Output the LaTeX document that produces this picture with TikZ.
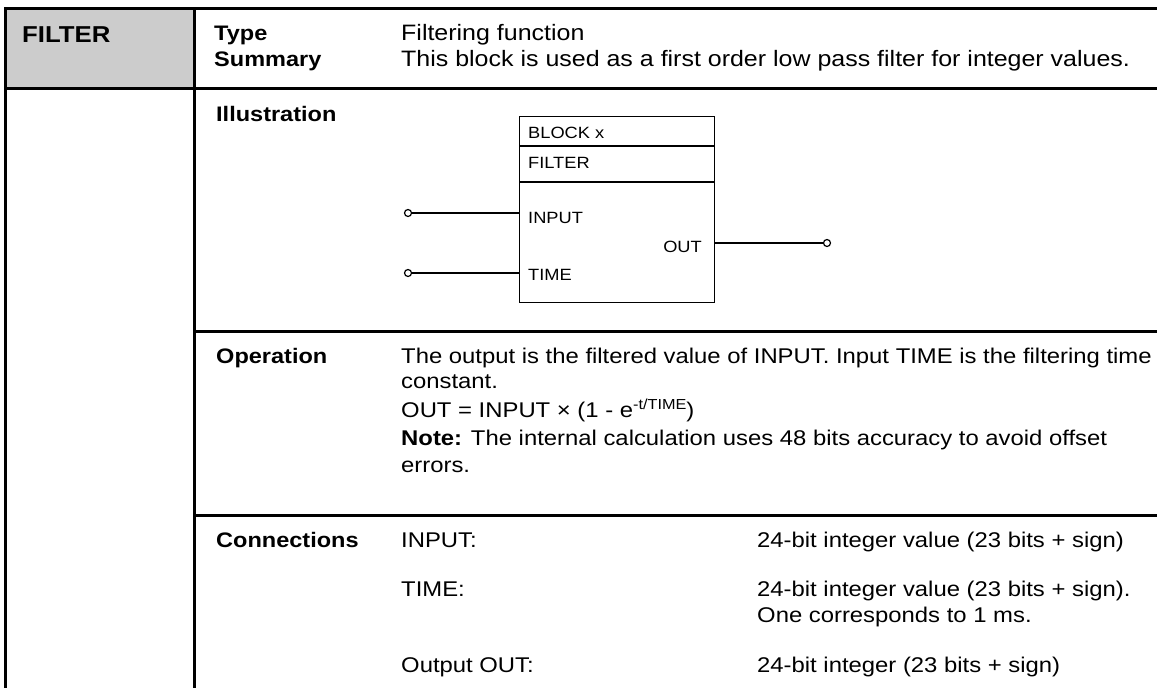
\documentclass[tikz,border=0pt]{standalone}
\usepackage{fontspec}
\setmainfont{Liberation Sans}[FakeStretch=1.12]
\begin{document}
\begin{tikzpicture}[x=1pt,y=-1pt,
  rule/.style={line width=3pt},
  txt/.style={anchor=base west,inner sep=0pt,font=\fontsize{21.3}{26}\selectfont},
  hdtxt/.style={anchor=base west,inner sep=0pt,font=\fontsize{22.3}{27}\selectfont},
  lbl/.style={anchor=base west,inner sep=0pt,font=\fontsize{21}{26}\selectfont\bfseries},
  blktxt/.style={anchor=base west,inner sep=0pt,font=\fontsize{16.3}{20}\selectfont},
  pin/.style={circle,draw,line width=1.2pt,minimum size=7pt,inner sep=0pt,fill=white},
  wire/.style={line width=1.3pt}]
\useasboundingbox (0,0) rectangle (1157,688);

% header cell and table rules
\fill[gray!40] (5,8) rectangle (194,88);
\draw[rule] (5,688) -- (5,8) -- (1157,8);
\draw[rule] (5,88) -- (1157,88);
\draw[rule] (194,8) -- (194,688);
\draw[rule] (194,331) -- (1157,331);
\draw[rule] (194,515) -- (1157,515);

% header row
\node[anchor=base west,inner sep=0pt,font=\fontsize{23}{28}\selectfont\bfseries] (title) at (22,42) {FILTER};
\node[lbl] (type) at (214,40) {Type};
\node[lbl] (summary) at (214,66) {Summary};
\node[hdtxt] (typetxt) at (401,40) {Filtering function};
\node[hdtxt] (sumtxt) at (401,66) {This block is used as a first order low pass filter for integer values.};

% illustration row
\node[lbl] (illu) at (216,121) {Illustration};
\node[draw,wire,minimum width=195pt,minimum height=186pt,anchor=north west,inner sep=0pt] (blk) at (519,116) {};
\draw[wire] (blk.west |- 0,146) -- (blk.east |- 0,146);
\draw[wire] (blk.west |- 0,182) -- (blk.east |- 0,182);
\node[blktxt] (bname) at (528,138) {BLOCK x};
\node[blktxt] (bfunc) at (528,168) {FILTER};
\node[blktxt] (binput) at (528,223) {INPUT};
\node[blktxt] (btime) at (528,280) {TIME};
\node[blktxt,anchor=base east] (bout) at (702,252) {OUT};
\node[pin] (pin1) at (408,213) {};
\node[pin] (pin2) at (408,273) {};
\node[pin] (pin3) at (827,243) {};
\draw[wire] (pin1) -- (blk.west |- pin1);
\draw[wire] (pin2) -- (blk.west |- pin2);
\draw[wire] (blk.east |- pin3) -- (pin3);

% operation row
\node[lbl] (oper) at (216,363) {Operation};
\node[txt] (op1) at (401,363) {The output is the filtered value of INPUT. Input TIME is the filtering time};
\node[txt] (op2) at (401,388) {constant.};
\node[txt] (op3) at (401,417) {OUT = INPUT × (1 - e\raisebox{8pt}{\fontsize{14.5}{16}\selectfont -t/TIME})};
\node[txt] (op4) at (401,445) {\textbf{Note:} The internal calculation uses 48 bits accuracy to avoid offset};
\node[txt] (op5) at (401,472) {errors.};

% connections row
\node[lbl] (conn) at (216,547) {Connections};
\node[txt] (c1) at (401,547) {INPUT:};
\node[txt] (c2) at (401,596) {TIME:};
\node[txt] (c3) at (401,672) {Output OUT:};
\node[txt] (d1) at (757,547) {24-bit integer value (23 bits + sign)};
\node[txt] (d2) at (757,596) {24-bit integer value (23 bits + sign).};
\node[txt] (d2b) at (757,622) {One corresponds to 1 ms.};
\node[txt] (d3) at (757,672) {24-bit integer (23 bits + sign)};
\end{tikzpicture}
\end{document}
